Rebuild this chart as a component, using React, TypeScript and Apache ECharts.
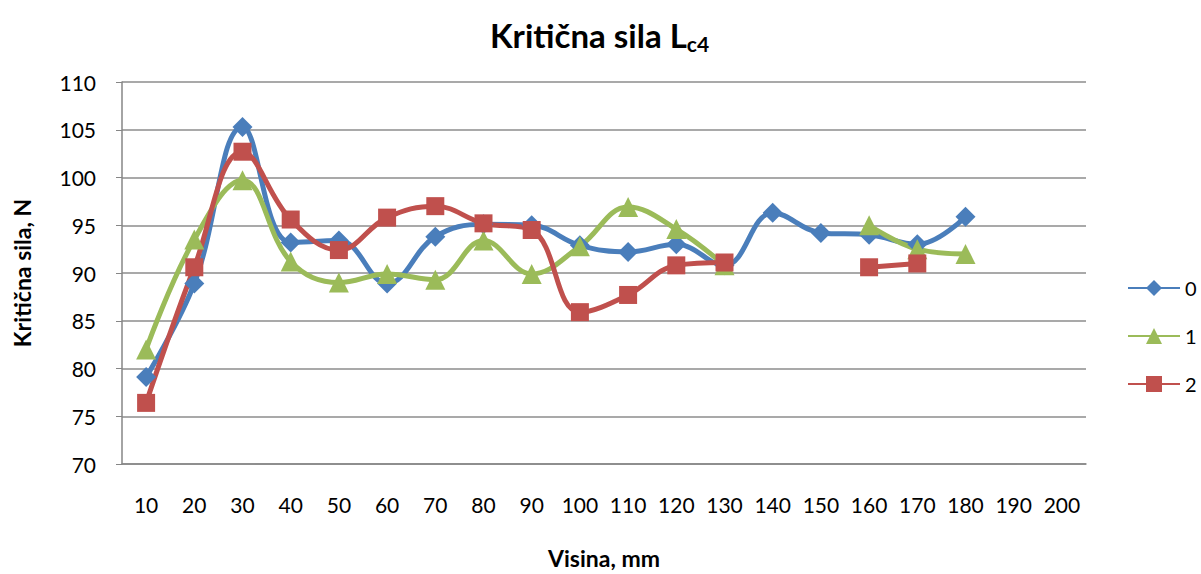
import React, { useEffect, useRef } from "react";
import * as echarts from "echarts";

const categories = ["10","20","30","40","50","60","70","80","90","100","110","120","130","140","150","160","170","180","190","200"];
const series0: (number | null)[] = [79.1, 88.9, 105.3, 93.2, 93.4, 88.9, 93.8, 95.1, 95.0, 92.9, 92.2, 93.0, 90.8, 96.3, 94.2, 94.0, 93.0, 95.9, null, null];
const series1: (number | null)[] = [82.0, 93.5, 99.7, 91.2, 89.0, 89.9, 89.3, 93.4, 89.9, 92.8, 96.9, 94.6, 90.8, null, null, 95.0, 92.5, 92.0, null, null];
const series2: (number | null)[] = [76.4, 90.6, 102.7, 95.6, 92.4, 95.8, 97.0, 95.2, 94.5, 85.9, 87.7, 90.8, 91.1, null, null, 90.6, 91.0, null, null, null];
const seriesNames = ["0", "1", "2"];
const colors = ["#4A7EBB", "#9BBB59", "#C0504D"];
const symbols = ["diamond", "triangle", "rect"];
const symbolSizes = [20, 20, 18];

const FONT = "Lato, 'Liberation Sans', sans-serif";

export default function App() {
  const ref = useRef<HTMLDivElement>(null);
  useEffect(() => {
    if (!ref.current) return;
    const chart = echarts.init(ref.current, null, { renderer: "svg" });
    const data = [series0, series1, series2];
    chart.setOption({
      animation: false,
      backgroundColor: "#ffffff",
      title: {
        text: "Kritična sila L{sub|c4}",
        left: 485,
        top: 10,
        textStyle: {
          fontFamily: FONT,
          fontSize: 33,
          fontWeight: "bold",
          color: "#000",
          rich: {
            sub: {
              fontFamily: FONT,
              fontSize: 21,
              fontWeight: "bold",
              color: "#000",
              verticalAlign: "bottom",
              padding: [18, 0, 0, 0],
            },
          },
        },
      },
      legend: {
        orient: "vertical",
        left: 1122,
        top: 273,
        itemGap: 28,
        itemWidth: 52,
        itemHeight: 20,
        textStyle: { fontFamily: FONT, fontSize: 20, color: "#000" },
        data: seriesNames,
      },
      grid: { left: 122, right: 115, top: 82, bottom: 107, containLabel: false },
      xAxis: {
        type: "category",
        data: categories,
        boundaryGap: true,
        name: "Visina, mm",
        nameLocation: "middle",
        nameGap: 82,
        nameTextStyle: { fontFamily: FONT, fontSize: 23, fontWeight: "bold", color: "#000" },
        axisLine: { lineStyle: { color: "#868686", width: 1.5 } },
        axisTick: { show: false },
        axisLabel: { fontFamily: FONT, fontSize: 21, color: "#000", margin: 30 },
        splitLine: { show: false },
      },
      yAxis: {
        type: "value",
        min: 70,
        max: 110,
        interval: 5,
        name: "Kritična sila, N",
        nameLocation: "middle",
        nameGap: 89,
        nameTextStyle: { fontFamily: FONT, fontSize: 23, fontWeight: "bold", color: "#000" },
        axisLine: { show: true, lineStyle: { color: "#868686", width: 1.5 } },
        axisTick: { show: true, length: 6, lineStyle: { color: "#868686" } },
        axisLabel: { fontFamily: FONT, fontSize: 21, color: "#000", margin: 26 },
        splitLine: { lineStyle: { color: "#8c8c8c", width: 1.5 } },
      },
      series: data.map((d, i) => ({
        name: seriesNames[i],
        type: "line",
        data: d,
        smooth: 0.4,
        connectNulls: false,
        symbol: symbols[i],
        symbolSize: symbolSizes[i],
        showAllSymbol: true,
        lineStyle: { color: colors[i], width: 5 },
        itemStyle: { color: colors[i] },
      })),
    });
    return () => chart.dispose();
  }, []);
  return <div ref={ref} style={{ width: 1201, height: 574, position: "absolute", left: 0, top: 0 }} />;
}
